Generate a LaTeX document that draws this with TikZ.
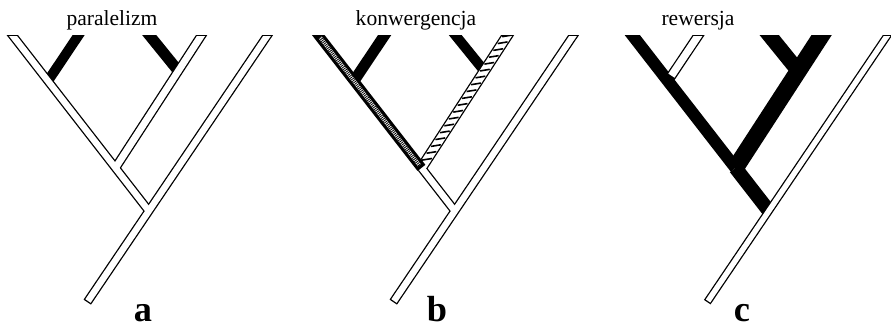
\documentclass[tikz,border=0pt]{standalone}
\usepackage{fontspec}
\setmainfont{Liberation Serif}
\usetikzlibrary{calc}
\newcommand{\pxu}{0.03cm}
\tikzset{
	rim/.style={draw=black, line width=#1*\pxu},
	core/.style={draw=white, line width=(#1-2.6)*\pxu},
	pastend/.style={shorten >=-0.25cm},
	pastroot/.style={shorten <=-0.04cm},
	rung/.style={draw=black, line width=1.6*\pxu},
	speck/.style={draw=white, line width=3.6*\pxu},
	speckdots/.style={draw=black, line width=3.6*\pxu, dash pattern=on 0.7pt off 0.9pt},
	lbl/.style={inner sep=0pt, font=\fontsize{18.4}{20}\selectfont},
	panel/.style={inner sep=0pt, font=\fontsize{31}{34}\selectfont\bfseries},
}

\begin{document}
\begin{tikzpicture}[x=0.03cm, y=-0.03cm]
	\useasboundingbox (0,0) rectangle (891,328);
	% the three trees share one shape
	\foreach \tr/\dx in {a/0, b/306, c/620} {
		\coordinate (\tr-R) at (88+\dx,301);
		\coordinate (\tr-E) at (267+\dx,36);
		\coordinate (\tr-A) at (13+\dx,36);
		\coordinate (\tr-B) at (78+\dx,36);
		\coordinate (\tr-C) at (150+\dx,36);
		\coordinate (\tr-D) at (201+\dx,36);
		\coordinate (\tr-N1) at ($(\tr-R)!0.34!(\tr-E)$);
		\coordinate (\tr-N2) at ($(\tr-N1)!0.246!(\tr-A)$);
		\coordinate (\tr-N3) at ($(\tr-N1)!0.743!(\tr-A)$);
		\coordinate (\tr-N4) at ($(\tr-N2)!0.735!(\tr-D)$);
	}

	% a -- paralelizm
	\begin{scope}
		\clip (-10,35) rectangle (900,340);
		\draw[rim=9, pastroot, pastend] (a-R) -- (a-E);
		\draw[rim=9, pastend] (a-N1) -- (a-A);
		\draw[rim=9.5, pastend] (a-N2) -- (a-D);
		\draw[rim=10, pastend] (a-N3) -- (a-B);
		\draw[rim=11, pastend] (a-N4) -- (a-C);
	\end{scope}
	\begin{scope}
		\clip (-10,36.4) rectangle (900,340);
		\draw[core=9, pastend] (a-R) -- (a-E);
		\draw[core=9, pastend] (a-N1) -- (a-A);
		\draw[core=9.5, pastend] (a-N2) -- (a-D);
	\end{scope}

	% b -- konwergencja
	\begin{scope}
		\clip (-10,35) rectangle (900,340);
		\draw[rim=9, pastroot, pastend] (b-R) -- (b-E);
		\draw[rim=9] (b-N1) -- (b-N2);
		\draw[rim=11, pastend] (b-N2) -- (b-D);
		\draw[rim=11, pastend] (b-N3) -- (b-B);
		\draw[rim=10, pastend] (b-N4) -- (b-C);
	\end{scope}
	\begin{scope}
		\clip (-10,36.4) rectangle (900,340);
		\draw[core=9, pastend] (b-R) -- (b-E);
		\draw[core=9] (b-N1) -- (b-N2);
		\draw[core=11, pastend] (b-N2) -- (b-D);
		\foreach \k [evaluate=\k as \s using 0.065+0.052*\k] in {0,...,18}
			\draw[rung] ($(b-N2)!\s!(b-D)$) +(-4.9,0.8) -- +(4.9,-0.8);
	\end{scope}
	\begin{scope}
		\clip (-10,35) rectangle (900,340);
		\draw[rim=10, pastend] (b-N2) -- (b-A);
		\draw[speck, shorten <=0.1cm, shorten >=0.06cm] (b-N2) -- (b-A);
		\draw[speckdots, shorten <=0.1cm, shorten >=0.06cm] (b-N2) -- (b-A);
	\end{scope}

	% c -- rewersja
	\begin{scope}
		\clip (-10,35) rectangle (900,340);
		\draw[rim=8, pastroot, pastend] (c-R) -- (c-E);
		\draw[rim=14] (c-N1) -- (c-N2);
		\draw[rim=12, pastend] (c-N2) -- (c-A);
		\draw[rim=10, pastend] (c-N3) -- (c-B);
		\draw[rim=17, pastend] (c-N2) -- (c-D);
		\draw[rim=15, pastend] (c-N4) -- (c-C);
	\end{scope}
	\begin{scope}
		\clip (-10,36.4) rectangle (900,340);
		\draw[core=8, pastend] (c-R) -- (c-E);
		\draw[core=10, pastend, shorten <=0.19cm] (c-N3) -- (c-B);
	\end{scope}

	% labels
	\node[lbl, anchor=base] (para) at (112,25) {paralelizm};
	\node[lbl, anchor=base] (konw) at (416,25) {konwergencja};
	\node[lbl, anchor=base] (rew) at (698,25) {rewersja};
	\node[panel, anchor=base] (pa) at (143,321) {a};
	\node[panel, anchor=base] (pb) at (437,321) {b};
	\node[panel, anchor=base] (pc) at (742,321) {c};
\end{tikzpicture}
\end{document}
